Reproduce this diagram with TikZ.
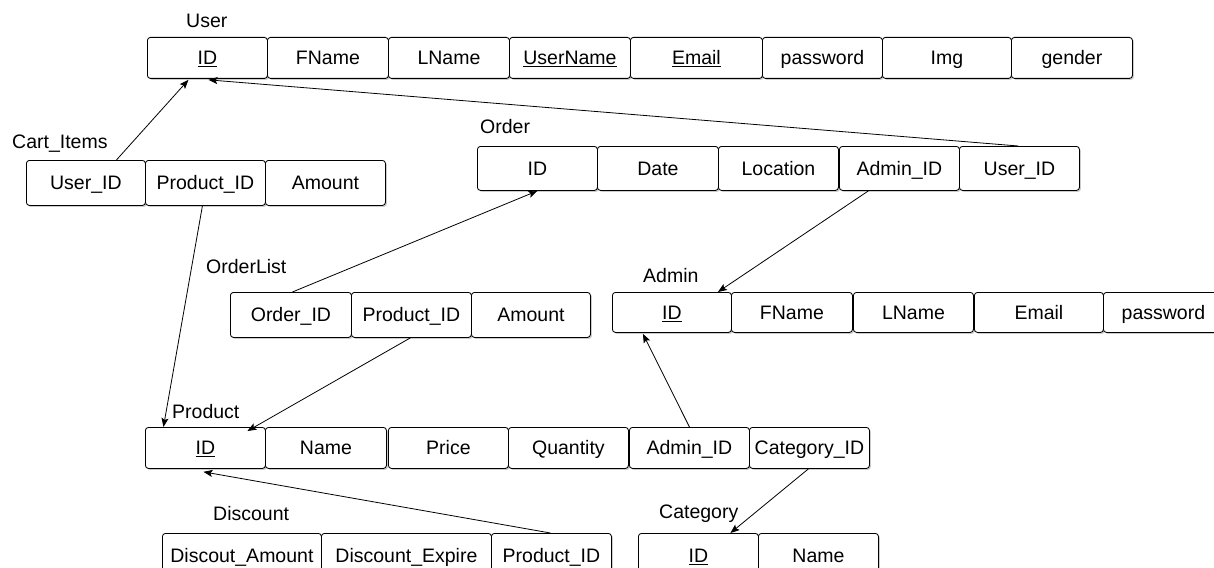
\documentclass[tikz,border=0pt]{standalone}
\usepackage{fontspec}
\setmainfont{Liberation Sans}
\usetikzlibrary{arrows.meta,shadows}
\begin{document}
\begin{tikzpicture}[x=1pt,y=-1pt,
  fld/.style={draw=black, fill=white, line width=0.85pt, rounded corners=3pt,
    anchor=north west, inner sep=0pt, minimum width=120pt, minimum height=41pt,
    text height=13.8pt, text depth=0pt, font=\fontsize{19.5}{22}\selectfont,
    drop shadow={shadow xshift=1.5pt, shadow yshift=-1.5pt, opacity=0.2, fill=black}},
  ttl/.style={anchor=base west, inner sep=0pt, font=\fontsize{19.5}{22}\selectfont},
  arr/.style={draw=black, line width=0.8pt, -{Stealth[length=9pt,width=7pt,inset=1.8pt]}}]
\useasboundingbox (0,0) rectangle (1214,567);
\clip (0,0) rectangle (1214,567);

% User
\node[ttl] (tuser) at (186,28) {User};
\node[fld] (u1) at (147,37) {\underline{ID}};
\node[fld, minimum width=121pt] (u2) at (267,37) {FName};
\node[fld, minimum width=121pt] (u3) at (388,37) {LName};
\node[fld, minimum width=121pt] (u4) at (509,37) {\underline{UserName}};
\node[fld, minimum width=132pt] (u5) at (630,37) {\underline{Email}};
\node[fld] (u6) at (762,37) {password};
\node[fld, minimum width=129pt] (u7) at (882,37) {Img};
\node[fld, minimum width=121pt] (u8) at (1011,37) {gender};

% Cart_Items
\node[ttl] (tcart) at (12,148) {Cart\_Items};
\node[fld, minimum width=119pt, minimum height=45pt] (c1) at (26,160) {User\_ID};
\node[fld, minimum height=45pt] (c2) at (145,160) {Product\_ID};
\node[fld, minimum height=45pt] (c3) at (265,160) {Amount};

% Order
\node[ttl] (torder) at (480,133) {Order};
\node[fld, minimum height=44pt] (o1) at (477,146) {ID};
\node[fld, minimum width=121pt, minimum height=44pt] (o2) at (597,146) {Date};
\node[fld, minimum height=44pt] (o3) at (718,146) {Location};
\node[fld, minimum height=44pt] (o4) at (839,146) {Admin\_ID};
\node[fld, minimum height=44pt] (o5) at (959,146) {User\_ID};

% OrderList
\node[ttl] (tol) at (206,273) {OrderList};
\node[fld, minimum width=121pt, minimum height=45pt] (l1) at (230,292) {Order\_ID};
\node[fld, minimum height=45pt] (l2) at (351,292) {Product\_ID};
\node[fld, minimum width=119pt, minimum height=45pt] (l3) at (471,292) {Amount};

% Admin
\node[ttl] (tadmin) at (643,282) {Admin};
\node[fld, minimum width=119pt, minimum height=40pt] (a1) at (612,292) {\underline{ID}};
\node[fld, minimum width=121pt, minimum height=40pt] (a2) at (731,292) {FName};
\node[fld, minimum height=40pt] (a3) at (853,292) {LName};
\node[fld, minimum width=129pt, minimum height=40pt] (a4) at (974,292) {Email};
\node[fld, minimum height=40pt] (a5) at (1103,292) {password};

% Product
\node[ttl] (tprod) at (172,418) {Product};
\node[fld] (p1) at (145,427) {\underline{ID}};
\node[fld, minimum width=121pt] (p2) at (265,427) {Name};
\node[fld] (p3) at (388,427) {Price};
\node[fld] (p4) at (508,427) {Quantity};
\node[fld] (p5) at (629,427) {Admin\_ID};
\node[fld] (p6) at (749,427) {Category\_ID};

% Discount
\node[ttl] (tdisc) at (213,520) {Discount};
\node[fld, minimum width=159pt, minimum height=44pt] (d1) at (162,533) {Discout\_Amount};
\node[fld, minimum width=170pt, minimum height=44pt] (d2) at (321,533) {Discount\_Expire};
\node[fld, minimum height=44pt] (d3) at (491,533) {Product\_ID};

% Category
\node[ttl] (tcat) at (659,518) {Category};
\node[fld, minimum height=44pt] (k1) at (638,533) {\underline{ID}};
\node[fld, minimum height=44pt] (k2) at (758,533) {Name};

% connectors
\draw[arr] ([xshift=30.5pt]c1.north) -- ([xshift=-19pt,yshift=-1pt]u1.south);
\draw[arr] ([xshift=-1pt]o5.north) -- ([xshift=1pt,yshift=-1pt]u1.south);
\draw[arr] ([xshift=-3pt]c2.south) -- ([xshift=-42pt]p1.north);
\draw[arr] ([xshift=1.5pt]l1.north) -- (o1.south);
\draw[arr] ([xshift=-31pt]o4.south) -- ([xshift=46pt]a1.north);
\draw[arr] ([xshift=-1pt]l2.south) -- ([xshift=42pt,yshift=-4pt]p1.north);
\draw[arr] (p5.north) -- ([xshift=-29pt,yshift=-1pt]a1.south);
\draw[arr] ([xshift=-1pt]p6.south) -- ([xshift=32pt]k1.north);
\draw[arr] ([xshift=-1pt]d3.north) -- ([xshift=-2pt,yshift=-3pt]p1.south);
\end{tikzpicture}
\end{document}
